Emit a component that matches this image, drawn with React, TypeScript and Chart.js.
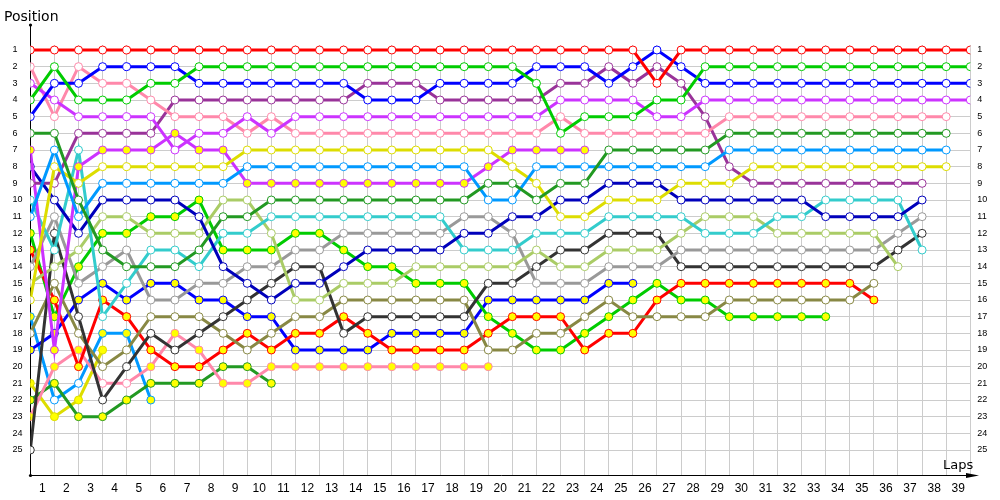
import React, { useEffect, useRef } from 'react';
import { Chart, registerables } from 'chart.js';

Chart.register(...registerables);

// ---- Tick labels ----
const lapTickLabels = ['1','2','3','4','5','6','7','8','9','10','11','12','13','14','15','16','17','18','19','20','21','22','23','24','25','26','27','28','29','30','31','32','33','34','35','36','37','38','39'];
const lapGridValues = [0,1,2,3,4,5,6,7,8,9,10,11,12,13,14,15,16,17,18,19,20,21,22,23,24,25,26,27,28,29,30,31,32,33,34,35,36,37,38,39];
const positionTicks = [1,2,3,4,5,6,7,8,9,10,11,12,13,14,15,16,17,18,19,20,21,22,23,24,25];

// ---- Positions per lap (index 0 = grid) ----
const red1 = [1,1,1,1,1,1,1,1,1,1, 1,1,1,1,1,1,1,1,1,1, 1,1,1,1,1,1,3,1,1,1, 1,1,1,1,1,1,1,1,1,1];
const green1 = [4,2,4,4,4,3,3, 2,2,2,2,2,2,2,2,2,2,2,2,2,2, 3,6,5,5,5,4,4, 2,2,2,2,2,2,2,2,2,2,2,2];
const blue1 = [5,3,3,2,2,2,2, 3,3,3,3,3,3,3, 4,4,4, 3,3,3,3, 2,2,2, 3,2,1,2, 3,3,3,3,3,3,3,3,3,3,3,3];
const magenta1 = [3,4,5,5,5,5, 7,6,6,5,6, 5,5,5,5,5,5,5,5,5,5,5, 4,4,4,4, 5,5, 4,4,4,4,4,4,4,4,4,4,4,4];
const pink1 = [2,5,2,3,3,4, 5,5,5,6,5, 6,6,6,6,6,6,6,6,6,6,6, 5, 6,6,6,6,6,6, 5,5,5,5,5,5,5,5,5,5];
const dkgreen1 = [6,6,10,13,14,14,14,13,11,11, 10,10,10,10,10,10,10,10,10, 9,9,10,9,9, 7,7,7,7,7, 6,6,6,6,6,6,6,6,6,6];
const ltblue1 = [11,7,11,9,9,9,9,9,9, 8,8,8,8,8,8,8,8,8,8, 10,10, 8,8,8,8,8,8,8,8, 7,7,7,7,7,7,7,7,7,7];
const yellow1 = [16,8,9,8,8,8,8,8,8, 7,7,7,7,7,7,7,7,7,7,7, 8,9,11,11,10,10,10,9,9,9, 8,8,8,8,8,8,8,8,8];
const purple1 = [9,9,6,6,6,6, 4,4,4,4,4,4,4,4, 3,3,3, 4,4,4,4,4, 3,3,2,3,2,3,5,8, 9,9,9,9,9,9,9,9];
const magenta2 = [7,19,8,7,7,7,6,7,7, 9,9,9,9,9,9,9,9,9,9, 8, 7,7,7,7];
const navy1 = [8,10,12,10,10,10,10,11,14,15,16,15,15,14,13,13,13,13,12,12,11,11,10,10,9,9,9, 10,10,10,10,10,10, 11,11,11,11, 10];
const cyan1 = [10,13,7,17,15,13,13,14,12,12, 11,11,11,11,11,11,11,11, 13,13,13,12,12,12,11,11,11,11,12,12,12,11,11,10,10,10,10,13];
const ltgreen1 = [15,14,13,11,11,12,12,12,10,10,12,16,16,15,15,15, 14,14,14,14,14, 13,14,14,13,13,13,12,11,11,11, 12,12,12,12,12, 14];
const gray1 = [14,11,15,14,13,16,16,15,15,14,14,13,13,12,12,12,12,12,11,11,12,15,15,15,14,14,14, 13,13,13,13,13,13,13,13,13, 12,11];
const black1 = [25,12,17,22,20,18,19,18,17,16,15,14,14,18,17,17,17,17,17,15,15,14,13,13,12,12,12, 14,14,14,14,14,14,14,14,14, 13,12];
const olive1 = [18,15,18,20,19,17,17,17,18,19,18,17,17,16,16,16,16,16,16,19,19,18,18,17,16,17,17,17,17, 16,16,16,16,16,16, 15];
const red2 = [13,16,20,16,17,19,20,20,19,18,19,18,18,17,18,19,19,19,19,18,17,17,17,19,18,18,16, 15,15,15,15,15,15,15,15, 16];
const green2 = [12,17,14,12,12,11,11,10,13,13,13,12,12,13,14,14,15,15,15,17,18,19,19,18,17,16,15,16,16, 17,17,17,17,17];
const blue2 = [19,18,16,15,16,15,15,16,16,17,17,19,19,19,19,18,18,18,18,16,16,16,16,16,15,15];
const pink2 = [23,20,19,21,21,20,18,19,21,21, 20,20,20,20,20,20,20,20,20,20];
const dkgreen2 = [22,21,23,23,22,21,21,21,20,20,21];
const ltblue2 = [17,22,21,18,18,22];
const yellow2 = [21,23,22,19];

// ---- Styling per driver (fill: yellow points = soft, with exception laps) ----
const drivers = [
  { laps: red1, color: '#ff0000', soft: false, hardLaps: [] as number[] },
  { laps: green1, color: '#00cc00', soft: false, hardLaps: [] },
  { laps: blue1, color: '#0000ff', soft: false, hardLaps: [] },
  { laps: magenta1, color: '#cc33ff', soft: false, hardLaps: [] },
  { laps: pink1, color: '#ff88aa', soft: false, hardLaps: [] },
  { laps: dkgreen1, color: '#229922', soft: false, hardLaps: [] },
  { laps: ltblue1, color: '#0099ff', soft: false, hardLaps: [] },
  { laps: yellow1, color: '#dddd00', soft: false, hardLaps: [] },
  { laps: purple1, color: '#993399', soft: false, hardLaps: [] },
  { laps: magenta2, color: '#cc33ff', soft: true, hardLaps: [] },
  { laps: navy1, color: '#0000bb', soft: false, hardLaps: [] },
  { laps: cyan1, color: '#33cccc', soft: false, hardLaps: [] },
  { laps: ltgreen1, color: '#aacc66', soft: false, hardLaps: [] },
  { laps: gray1, color: '#999999', soft: false, hardLaps: [] },
  { laps: black1, color: '#333333', soft: false, hardLaps: [] },
  { laps: olive1, color: '#888844', soft: false, hardLaps: [] },
  { laps: red2, color: '#ff0000', soft: true, hardLaps: [] },
  { laps: green2, color: '#00cc00', soft: true, hardLaps: [] },
  { laps: blue2, color: '#0000ff', soft: true, hardLaps: [] },
  { laps: pink2, color: '#ff88aa', soft: true, hardLaps: [3, 4] },
  { laps: dkgreen2, color: '#229922', soft: true, hardLaps: [] },
  { laps: ltblue2, color: '#0099ff', soft: true, hardLaps: [1, 2] },
  { laps: yellow2, color: '#dddd00', soft: true, hardLaps: [] },
];

const axisDecor = {
  id: 'axisDecor',
  beforeDatasetsDraw(chart: any) {
    const { ctx, chartArea, scales } = chart;
    const x0 = Math.round(scales.x.getPixelForValue(0)) + 0.5;
    const yb = Math.round(chartArea.bottom) + 0.5;
    ctx.save();
    ctx.strokeStyle = '#000';
    ctx.fillStyle = '#000';
    ctx.lineWidth = 1;
    ctx.beginPath();
    ctx.moveTo(x0, 25);
    ctx.lineTo(x0, yb);
    ctx.lineTo(972, yb);
    ctx.stroke();
    ctx.beginPath();
    ctx.moveTo(979, yb);
    ctx.lineTo(966, yb - 2.5);
    ctx.lineTo(966, yb + 2.5);
    ctx.closePath();
    ctx.fill();
    ctx.beginPath();
    ctx.arc(x0, 25, 1.6, 0, Math.PI * 2);
    ctx.fill();
    ctx.beginPath();
    ctx.arc(x0, yb, 1.6, 0, Math.PI * 2);
    ctx.fill();
    ctx.restore();
  },
  afterDraw(chart: any) {
    const { ctx } = chart;
    ctx.save();
    ctx.fillStyle = '#000';
    ctx.textAlign = 'left';
    ctx.textBaseline = 'alphabetic';
    ctx.font = '14px "DejaVu Sans"';
    ctx.fillText('Position', 4, 20.5);
    ctx.font = '13px "DejaVu Sans"';
    ctx.fillText('Laps', 943, 468.5);
    ctx.restore();
  },
};

export default function App() {
  const ref = useRef<HTMLCanvasElement>(null);
  useEffect(() => {
    const canvas = ref.current;
    if (!canvas) return;
    const datasets = drivers.map((d) => ({
      data: d.laps.map((p, i) => ({ x: i, y: p })),
      borderColor: d.color,
      backgroundColor: d.color,
      borderWidth: 3,
      pointRadius: 4,
      pointBorderWidth: 1,
      pointBorderColor: d.color,
      pointBackgroundColor: d.laps.map((_, i) => (d.soft && !d.hardLaps.includes(i) ? '#ffff00' : '#ffffff')),
      tension: 0,
      fill: false,
    }));
    const chart = new Chart(canvas, {
      type: 'line',
      data: { datasets } as any,
      options: {
        animation: false,
        responsive: false,
        devicePixelRatio: 1,
        layout: { padding: { left: 12.5, right: 0, top: 45, bottom: 0 } },
        plugins: { legend: { display: false }, tooltip: { enabled: false } },
        scales: {
          x: {
            type: 'linear',
            min: 0,
            max: 39,
            position: 'bottom',
            afterBuildTicks: (s: any) => { s.ticks = lapGridValues.map((v) => ({ value: v })); },
            afterFit: (s: any) => { s.height = 25; },
            ticks: {
              autoSkip: false,
              maxRotation: 0,
              minRotation: 0,
              labelOffset: 12.05,
              padding: 6,
              color: '#000',
              font: { family: '"Liberation Sans"', size: 12 },
              callback: (v: any) => lapTickLabels[v] ?? '',
            },
            grid: { color: '#cccccc', drawTicks: false, lineWidth: 1 },
            border: { display: false },
          },
          y: {
            type: 'linear',
            min: 0.7,
            max: 26.5,
            reverse: true,
            position: 'left',
            afterBuildTicks: (s: any) => { s.ticks = positionTicks.map((v) => ({ value: v })); },
            afterFit: (s: any) => { s.width = 17.8; },
            ticks: {
              autoSkip: false,
              crossAlign: 'far',
              padding: 0,
              color: '#000',
              font: { family: '"Liberation Sans"', size: 9 },
              callback: (v: any) => String(v),
            },
            grid: { color: '#cccccc', drawTicks: false, lineWidth: 1 },
            border: { display: false },
          },
          y2: {
            type: 'linear',
            min: 0.7,
            max: 26.5,
            reverse: true,
            position: 'right',
            afterBuildTicks: (s: any) => { s.ticks = positionTicks.map((v) => ({ value: v })); },
            afterFit: (s: any) => { s.width = 29.7; },
            ticks: {
              autoSkip: false,
              padding: 7,
              color: '#000',
              font: { family: '"Liberation Sans"', size: 9 },
              callback: (v: any) => String(v),
            },
            grid: { display: false, drawTicks: false },
            border: { display: false },
          },
        },
      } as any,
      plugins: [axisDecor],
    });
    return () => chart.destroy();
  }, []);
  return (
    <div style={{ position: 'absolute', left: 0, top: 0, width: 1000, height: 500, background: '#fff' }}>
      <canvas ref={ref} width={1000} height={500} style={{ display: 'block' }} />
    </div>
  );
}
